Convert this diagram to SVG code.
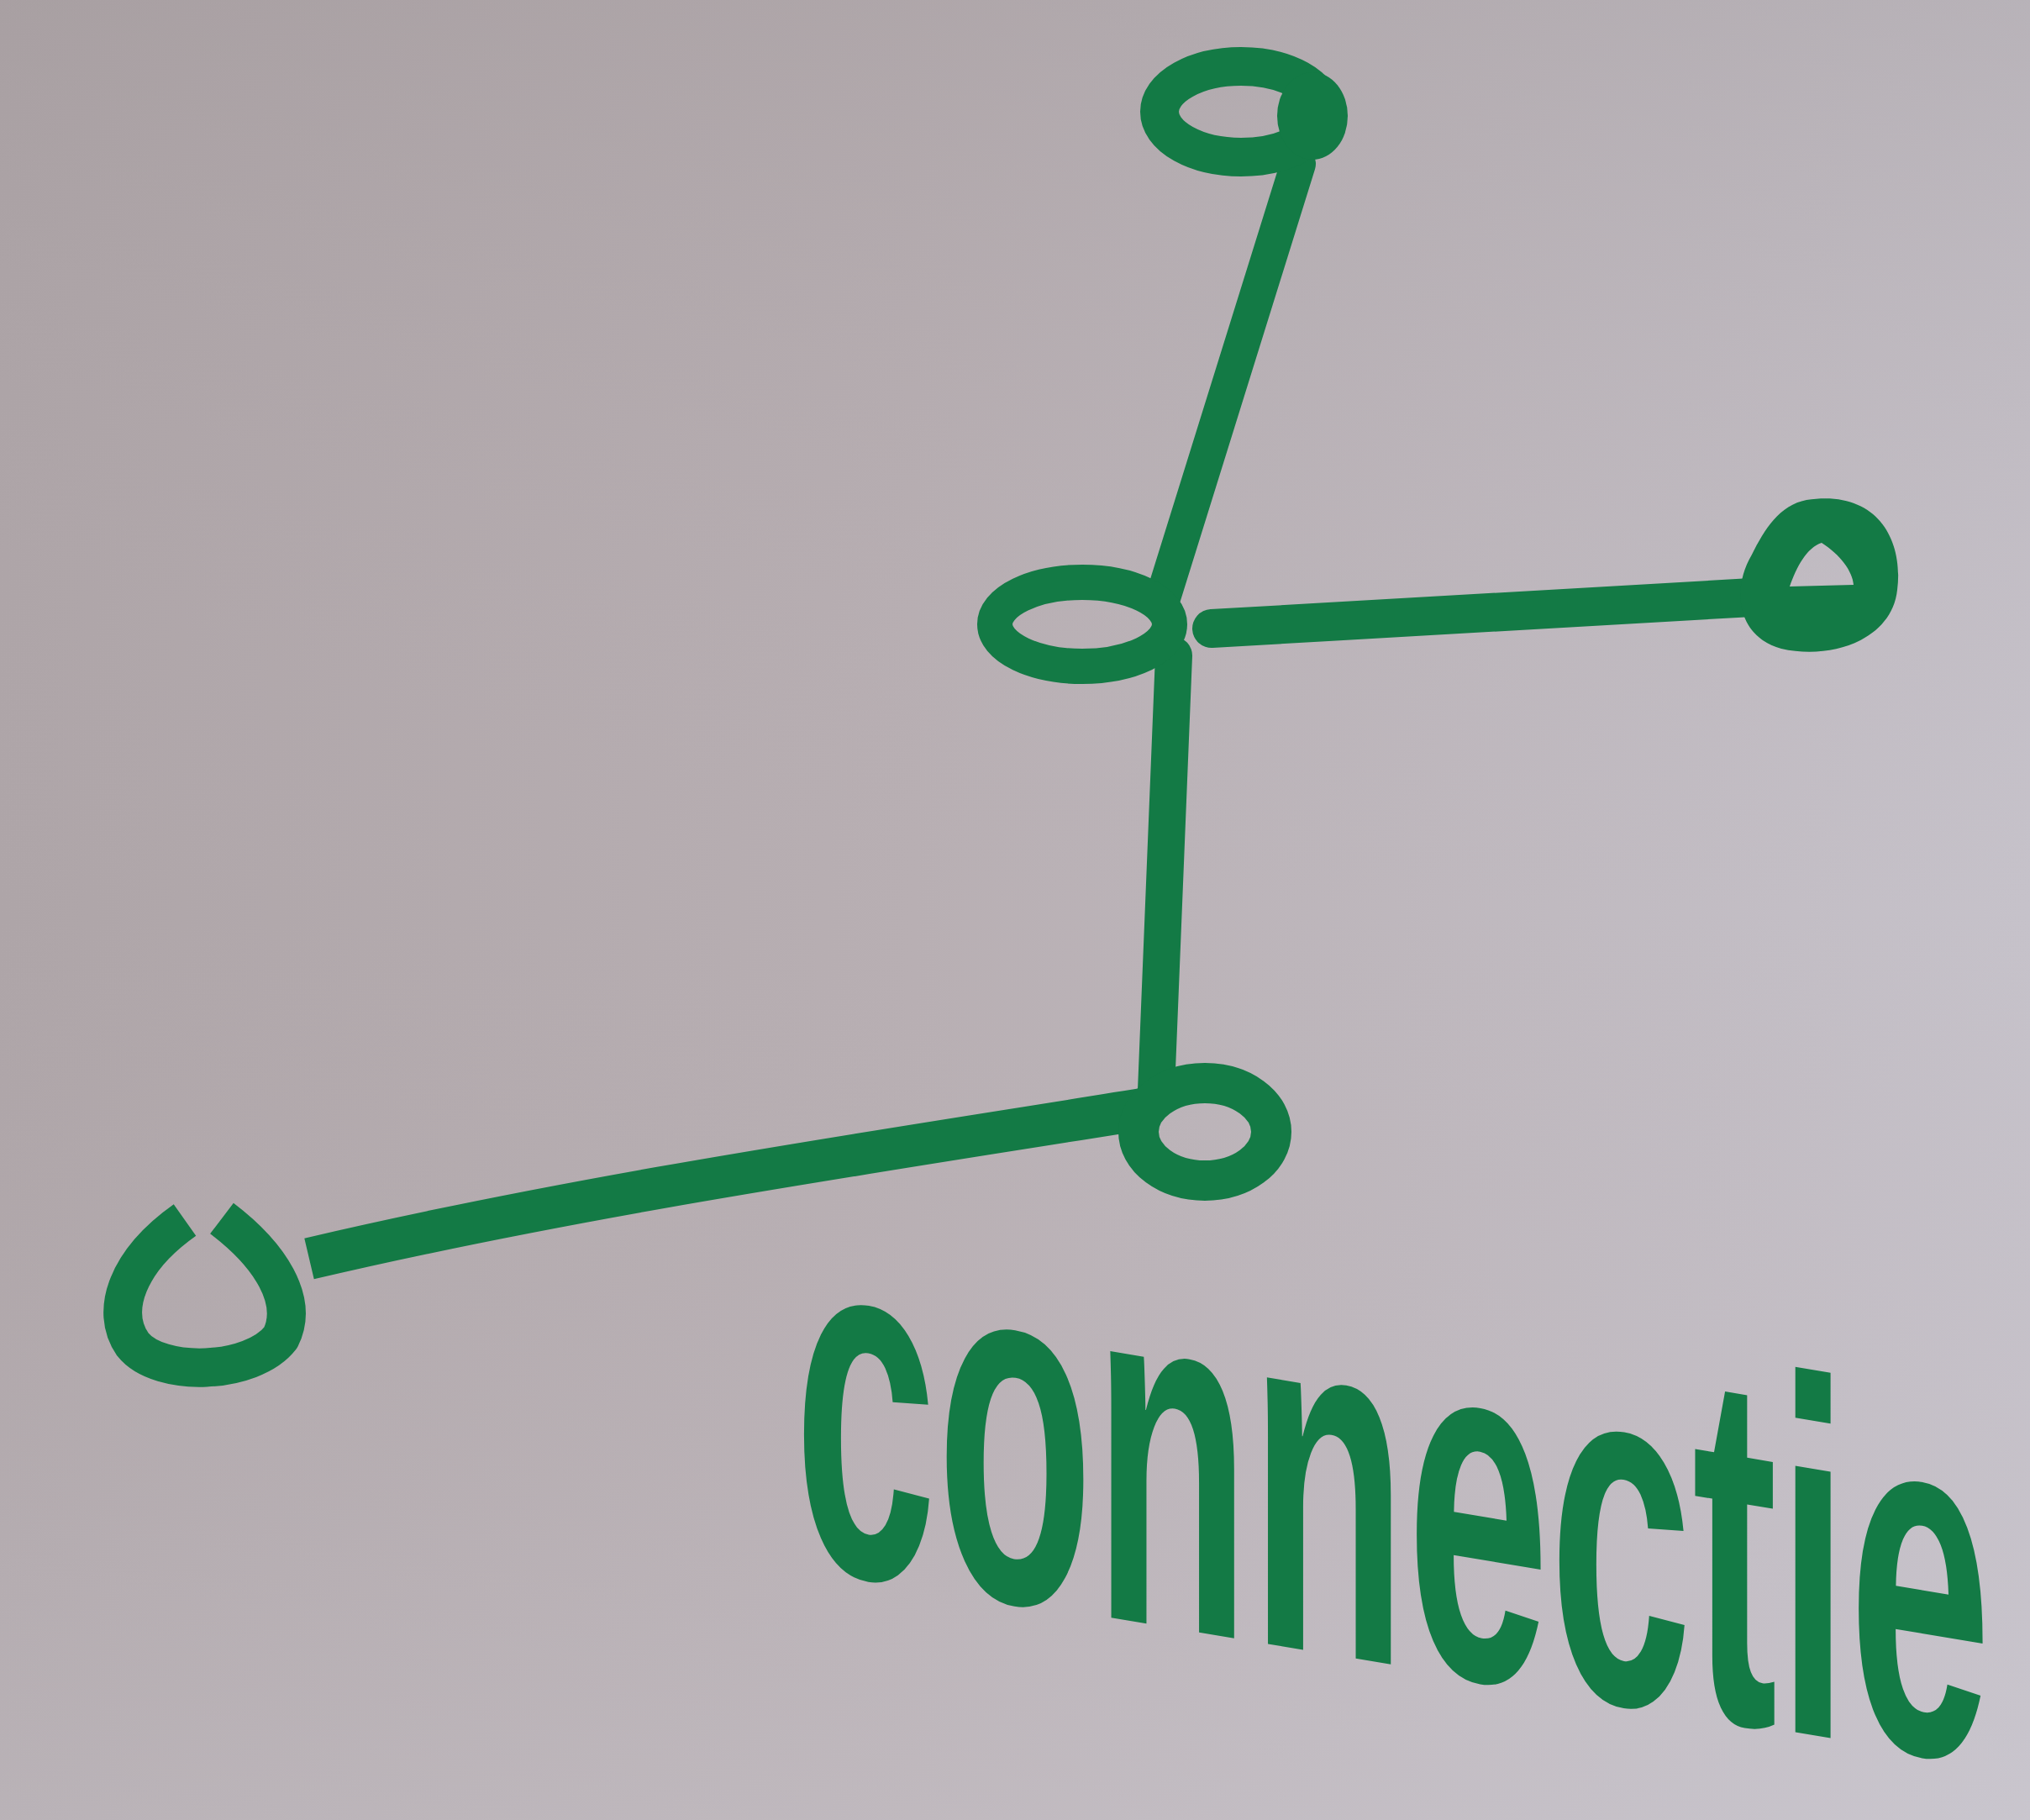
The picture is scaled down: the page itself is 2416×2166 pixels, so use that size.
<svg xmlns="http://www.w3.org/2000/svg" width="2416" height="2166" viewBox="0 0 2416 2166">
<defs>
<linearGradient id="bgH" x1="0" y1="0" x2="1" y2="0">
<stop offset="0" stop-color="#aea5a8"/>
<stop offset="0.45" stop-color="#b8afb3"/>
<stop offset="1" stop-color="#c6c2ca"/>
</linearGradient>
<linearGradient id="bgV" x1="0" y1="0" x2="0" y2="1">
<stop offset="0" stop-color="#9e9698" stop-opacity="0.35"/>
<stop offset="0.5" stop-color="#b8adb2" stop-opacity="0"/>
<stop offset="1" stop-color="#cfccd4" stop-opacity="0.35"/>
</linearGradient>
<style>
.ink{stroke:#137a45;fill:none;stroke-linecap:round;stroke-linejoin:round}
.butt{stroke-linecap:butt}
.fillink{fill:#137a45}
.lbl{font-family:"Liberation Sans",Arial,sans-serif;font-weight:bold;fill:#137a45}
</style>
</defs>
<rect x="0" y="0" width="2416" height="2166" fill="url(#bgH)"/>
<rect x="0" y="0" width="2416" height="2166" fill="url(#bgV)"/>

<g id="connectors">
<line class="ink" x1="1545" y1="195" x2="1382" y2="718" stroke-width="42"/>
<line class="ink" x1="1442" y1="748" x2="2085" y2="711" stroke-width="46"/>
<line class="ink" x1="1397" y1="780" x2="1376" y2="1298" stroke-width="44"/>
<path class="ink butt" d="M1372 1318 C1050 1370 700 1420 368 1498" stroke-width="50"/>
</g>

<g id="node-top">
<ellipse class="ink" cx="1477" cy="133" rx="97" ry="54" stroke-width="46"/>
<ellipse class="fillink" cx="1562" cy="138" rx="42" ry="52"/>
</g>

<g id="node-middle">
<ellipse class="ink" cx="1288" cy="743" rx="104" ry="50" stroke-width="42"/>
</g>

<g id="node-right">
<path class="fillink" fill-rule="evenodd" d="M2150 595 C2232 582 2266 640 2258 702 C2252 760 2182 786 2120 772 C2068 758 2060 702 2085 660 C2100 630 2118 601 2150 595 Z M2168 646 C2190 660 2205 680 2206 696 L2130 698 C2138 675 2150 652 2168 646 Z"/>
</g>

<g id="node-bottom">
<ellipse class="ink" cx="1434" cy="1347" rx="79" ry="58" stroke-width="48"/>
</g>

<g id="node-left">
<path class="ink butt" d="M220 1452 C152 1500 130 1560 158 1600 C190 1640 300 1636 334 1592 C356 1548 322 1494 264 1450" stroke-width="46"/>
</g>

<g id="label">
<text class="lbl" x="0" y="0" font-size="600" textLength="1425" lengthAdjust="spacingAndGlyphs" transform="translate(945,1862) skewY(9.5)">connectie</text>
</g>
</svg>
